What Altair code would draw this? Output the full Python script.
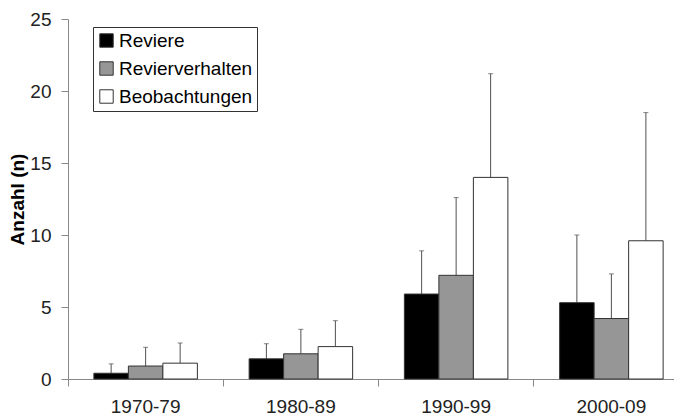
import altair as alt
import pandas as pd

periods = ["1970-79", "1980-89", "1990-99", "2000-09"]
series = ["Reviere", "Revierverhalten", "Beobachtungen"]
colors = ["#000000", "#969696", "#ffffff"]

reviere = [0.4, 1.4, 5.9, 5.3]
reviere_upper = [1.05, 2.45, 8.9, 10.0]
verhalten = [0.9, 1.75, 7.2, 4.2]
verhalten_upper = [2.2, 3.45, 12.6, 7.3]
beob = [1.1, 2.25, 14.0, 9.6]
beob_upper = [2.5, 4.05, 21.2, 18.5]

rows = []
for s, vals, ups in [("Reviere", reviere, reviere_upper),
                     ("Revierverhalten", verhalten, verhalten_upper),
                     ("Beobachtungen", beob, beob_upper)]:
    for p, v, u in zip(periods, vals, ups):
        rows.append({"period": p, "series": s, "value": v, "upper": u})
df = pd.DataFrame(rows)

FONT = "Liberation Sans"

x = alt.X("period:N", sort=periods, title=None,
          scale=alt.Scale(domain=periods, range=[0, 621], paddingInner=0, paddingOuter=0),
          axis=alt.Axis(bandPosition=0, labelAngle=0, labelFontSize=19, labelFont=FONT,
                        labelColor="#222222", tickSize=7, labelPadding=11,
                        domainColor="#888888", tickColor="#888888", labelFlush=False))
xoff = alt.XOffset("series:N", sort=series,
                   scale=alt.Scale(domain=series, paddingInner=0, paddingOuter=0.75))
y = alt.Y("value:Q", title="Anzahl (n)",
          scale=alt.Scale(domain=[0, 25], nice=False),
          axis=alt.Axis(values=[0, 5, 10, 15, 20, 25], grid=False, tickSize=7, labelPadding=10,
                        labelFontSize=19, labelFont=FONT, labelColor="#222222",
                        titleFont=FONT, titleFontSize=19, titleFontWeight="bold",
                        titleColor="#000000", titleX=-45, titleY=180,
                        titleBaseline="alphabetic", titleAngle=270,
                        domainColor="#888888", tickColor="#888888"))

base = alt.Chart(df)

rules = base.mark_rule(color="#505050", strokeWidth=1).encode(
    x=x, xOffset=xoff, y=y, y2="upper:Q")
caps = base.mark_tick(color="#505050", thickness=1, size=5).encode(
    x=x, xOffset=xoff, y=alt.Y("upper:Q"))
bars = base.mark_bar(stroke="#333333", strokeWidth=1).encode(
    x=x, xOffset=xoff, y=y,
    fill=alt.Fill("series:N", sort=series,
                  scale=alt.Scale(domain=series, range=colors),
                  legend=alt.Legend(title=None, orient="none", legendX=25, legendY=8,
                                    symbolType="square", symbolSize=180,
                                    symbolStrokeColor="#333333", symbolStrokeWidth=1,
                                    labelFont=FONT, labelFontSize=19, labelColor="#000000",
                                    rowPadding=8, padding=4, labelOffset=3,
                                    strokeColor="#333333", fillColor="#ffffff",
                                    symbolOpacity=1)))

chart = alt.layer(rules, caps, bars).properties(
    width=606, height=360,
    autosize=alt.AutoSizeParams(type="none"),
    padding={"left": 60, "top": 11, "right": 0, "bottom": 38},
).configure_view(stroke=None).configure_axis(labelFont=FONT)

chart.save("out.html", embed_options={"renderer": "svg", "actions": False})
